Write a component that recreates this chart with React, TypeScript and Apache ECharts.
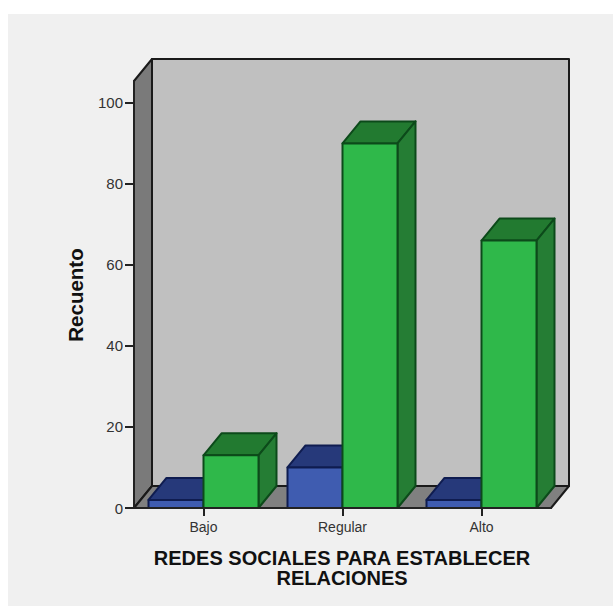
import React, { useEffect, useRef } from "react";
import * as echarts from "echarts";

const categories = ["Bajo", "Regular", "Alto"];
const blueValues = [2, 10, 2];
const greenValues = [13, 90, 66];
const yTicks = [0, 20, 40, 60, 80, 100];
const yMax = 105.4;

// Depth of the 3D projection, in pixels
const DX = 18;
const DY = -22;
const BAR_W = 55;

const OUTLINE = "#1a1a1a";

const poly = (points: number[][], fill: string, stroke: string, lineWidth = 2) => ({
  type: "polygon",
  shape: { points },
  style: { fill, stroke, lineWidth, lineJoin: "round" },
});

// Back wall, left wall and floor of the box behind the bars
function renderFrame(_p: any, api: any) {
  const [x0, y0] = api.coord([0, 0]);
  const size = api.size([1, yMax]);
  const left = x0 - size[0] / 2;
  const right = left + size[0] * 3;
  const top = y0 - size[1];
  return {
    type: "group",
    children: [
      poly(
        [[left + DX, top + DY], [right + DX, top + DY], [right + DX, y0 + DY], [left + DX, y0 + DY]],
        "#c0c0c0",
        OUTLINE
      ),
      poly(
        [[left, top], [left + DX, top + DY], [left + DX, y0 + DY], [left, y0]],
        "#7a7a7a",
        OUTLINE
      ),
      poly(
        [[left, y0], [left + DX, y0 + DY], [right + DX, y0 + DY], [right, y0]],
        "#808080",
        OUTLINE
      ),
    ],
  };
}

// One cuboid per category, on the left or right of the category's centre
function cubeRenderer(side: -1 | 1, front: string, topFace: string, sideFace: string, stroke: string) {
  return (_p: any, api: any) => {
    const cat = api.value(0);
    const [cx, yTop] = api.coord([cat, api.value(1)]);
    const [, yBase] = api.coord([cat, 0]);
    const x1 = side < 0 ? cx - BAR_W : cx;
    const x2 = x1 + BAR_W;
    return {
      type: "group",
      children: [
        poly([[x1, yTop], [x1 + DX, yTop + DY], [x2 + DX, yTop + DY], [x2, yTop]], topFace, stroke),
        poly([[x2, yTop], [x2 + DX, yTop + DY], [x2 + DX, yBase + DY], [x2, yBase]], sideFace, stroke),
        poly([[x1, yTop], [x2, yTop], [x2, yBase], [x1, yBase]], front, stroke),
      ],
    };
  };
}

export default function App() {
  const ref = useRef<HTMLDivElement>(null);

  useEffect(() => {
    document.body.style.margin = "0";
    const chart = echarts.init(ref.current!, null, { renderer: "svg" });
    const axisColor = "#222222";
    chart.setOption({
      animation: false,
      backgroundColor: "#ffffff",
      grid: { left: 134, top: 81, width: 417, height: 427, containLabel: false },
      xAxis: {
        type: "category",
        data: categories,
        axisLine: { show: true, lineStyle: { color: axisColor, width: 2 } },
        axisTick: { show: true, alignWithLabel: true, length: 8, lineStyle: { color: axisColor, width: 2 } },
        axisLabel: { color: "#333333", fontFamily: "Liberation Sans", fontSize: 14, margin: 12 },
        z: 10,
      },
      yAxis: {
        type: "value",
        min: 0,
        max: yMax,
        splitLine: { show: false },
        axisLine: { show: true, lineStyle: { color: axisColor, width: 2 } },
        axisTick: { show: true, length: 9, lineStyle: { color: axisColor, width: 2 }, customValues: yTicks },
        axisLabel: { color: "#333333", fontFamily: "Liberation Sans", fontSize: 15, margin: 11, customValues: yTicks },
        z: 1,
      },
      series: [
        {
          name: "frame",
          type: "custom",
          z: 1,
          silent: true,
          renderItem: renderFrame,
          data: [[0, 0]],
        },
        {
          name: "azul",
          type: "custom",
          z: 2,
          renderItem: cubeRenderer(-1, "#3f5cb0", "#26397a", "#26397a", "#0f1c50"),
          data: blueValues.map((v, i) => [i, v]),
        },
        {
          name: "verde",
          type: "custom",
          z: 3,
          renderItem: cubeRenderer(1, "#2fb84a", "#227a30", "#257d34", "#0c4a1a"),
          data: greenValues.map((v, i) => [i, v]),
        },
      ],
      graphic: [
        {
          type: "rect",
          z: -10,
          shape: { x: 8, y: 14, width: 605, height: 592 },
          style: { fill: "#f0f0f0" },
        },
        {
          type: "text",
          x: 75,
          y: 295,
          rotation: Math.PI / 2,
          style: {
            text: "Recuento",
            fill: "#111111",
            font: "bold 20.5px 'Liberation Sans'",
            align: "center",
            verticalAlign: "middle",
          },
        },
        {
          type: "text",
          x: 342,
          y: 568,
          style: {
            text: "REDES SOCIALES PARA ESTABLECER\nRELACIONES",
            fill: "#111111",
            font: "bold 20px 'Liberation Sans'",
            lineHeight: 20,
            align: "center",
            verticalAlign: "middle",
          },
        },
      ],
    });
    return () => chart.dispose();
  }, []);

  return (
    <div
      ref={ref}
      style={{ position: "absolute", left: 0, top: 0, width: 613, height: 606 }}
    />
  );
}
